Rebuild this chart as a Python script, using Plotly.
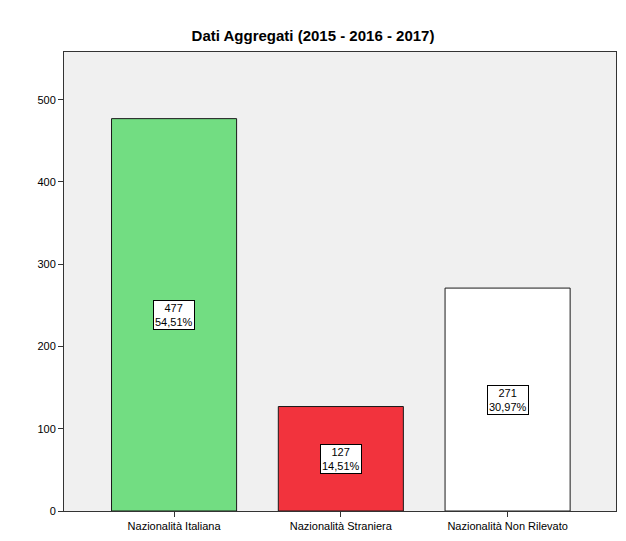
import plotly.graph_objects as go

categories = ["Nazionalità Italiana", "Nazionalità Straniera", "Nazionalità Non Rilevato"]
values = [477, 127, 271]
percent_labels = ["54,51%", "14,51%", "30,97%"]
colors = ["#72DD82", "#F2333D", "#FFFFFF"]
y_ticks = [0, 100, 200, 300, 400, 500]

fig = go.Figure()
fig.add_trace(go.Bar(
    x=list(range(len(categories))), y=values, width=0.75,
    marker=dict(color=colors, line=dict(color="#1a1a1a", width=1)),
    hoverinfo="skip",
))

for i, (v, p) in enumerate(zip(values, percent_labels)):
    fig.add_annotation(
        x=i, y=v / 2, text=f"{v}<br>{p}", showarrow=False,
        font=dict(family="Arial, Liberation Sans", size=11, color="black"),
        bgcolor="white", bordercolor="black", borderwidth=1, borderpad=1,
    )

fig.update_layout(
    width=626, height=541,
    margin=dict(l=64, r=9, t=52, b=24),
    paper_bgcolor="white", plot_bgcolor="#F0F0F0",
    title=dict(text="<b>Dati Aggregati (2015 - 2016 - 2017)</b>", x=0.5, xanchor="center",
               y=1 - 36 / 541, yanchor="middle",
               font=dict(family="Arial, Liberation Sans", size=15, color="black")),
    showlegend=False,
    font=dict(family="Arial, Liberation Sans", size=11, color="black"),
)
fig.update_xaxes(
    tickvals=list(range(len(categories))), ticktext=categories,
    range=[-0.66, 2.65], showgrid=False, zeroline=False,
    showline=True, linecolor="#333333", linewidth=1, mirror=True,
    ticks="outside", ticklen=5, tickcolor="#333333",
)
fig.update_yaxes(
    tickvals=y_ticks, range=[0, 558], showgrid=False, zeroline=False,
    showline=True, linecolor="#333333", linewidth=1, mirror=True,
    ticks="outside", ticklen=5, tickcolor="#333333",
)

fig.write_html("out.html")
